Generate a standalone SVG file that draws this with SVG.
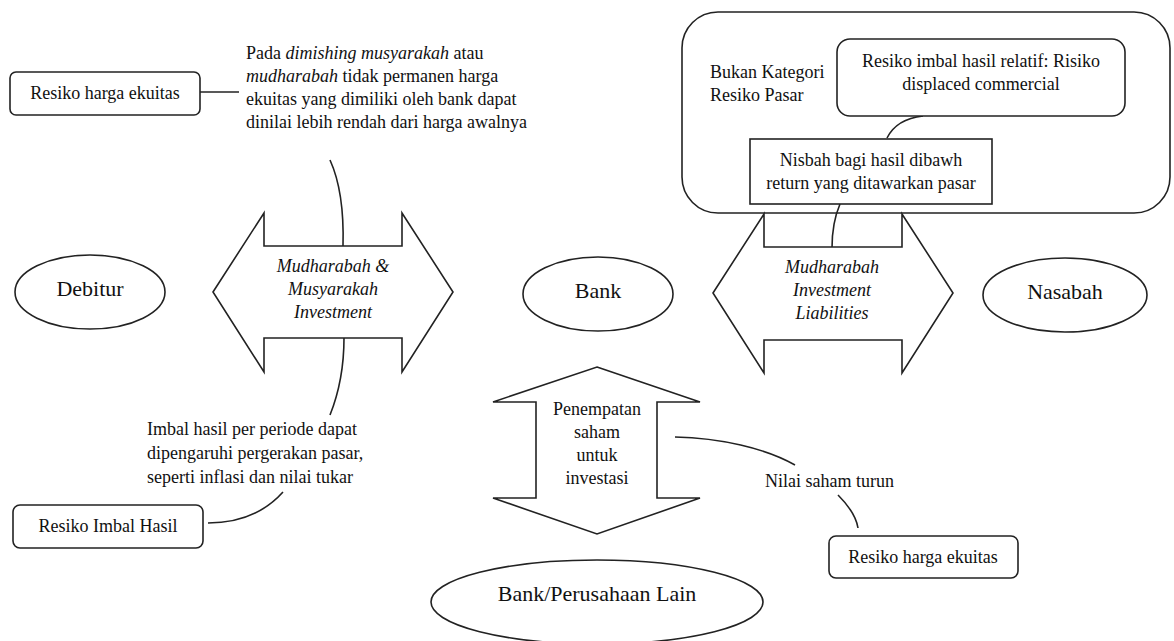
<svg xmlns="http://www.w3.org/2000/svg" width="1174" height="641" viewBox="0 0 1174 641" font-family="'Liberation Serif', 'DejaVu Serif', serif">
<style>
.s{fill:#fff;stroke:#222;stroke-width:1.6}
.c{fill:none;stroke:#222;stroke-width:1.6}
text{font-family:'Liberation Serif','DejaVu Serif',serif;fill:#111}
.b{font-size:18px}
.i{font-size:18px;font-style:italic}
.e{font-size:22px}
.m{text-anchor:middle}
</style>
<rect width="1174" height="641" fill="#fff"/>
<g id="group-pasar">
<rect class="s" x="682" y="12" width="488" height="201" rx="36"/>
<text class="b" x="710" y="78">Bukan Kategori</text>
<text class="b" x="710" y="101">Resiko Pasar</text>
</g>
<g id="connectors">
<path class="c" d="M200,92 L239,92"/>
<path class="c" d="M330,160 C340,182 344,210 343,246"/>
<path class="c" d="M344,338 C344,370 338,395 330,415"/>
<path class="c" d="M283,492 C265,512 240,523 208,523"/>
<path class="c" d="M887,138 C893,126 905,118 923,116"/>
<path class="c" d="M840,204 C834,218 832,232 832,248"/>
<path class="c" d="M675,437 C720,438 765,448 795,465"/>
<path class="c" d="M838,495 C848,505 856,515 858,528"/>
</g>
<g id="resiko-ekuitas-1">
<rect class="s" x="10" y="72" width="190" height="43" rx="6"/>
<text class="b m" x="105" y="99">Resiko harga ekuitas</text>
</g>
<g id="note-ekuitas">
<text class="b" x="246" y="59">Pada <tspan font-style="italic">dimishing musyarakah</tspan> atau</text>
<text class="b" x="246" y="82"><tspan font-style="italic">mudharabah</tspan> tidak permanen harga</text>
<text class="b" x="246" y="105">ekuitas yang dimiliki oleh bank dapat</text>
<text class="b" x="246" y="128">dinilai lebih rendah dari harga awalnya</text>
</g>
<g id="debitur">
<ellipse class="s" cx="90" cy="292" rx="75" ry="37"/>
<text class="e m" x="90" y="296">Debitur</text>
</g>
<g id="arrow-musyarakah">
<path class="s" d="M213,292 L264,213 L264,246 L402,246 L402,213 L453,292 L402,372 L402,338 L264,338 L264,372 Z"/>
<text class="i m" x="333" y="272">Mudharabah &amp;</text>
<text class="i m" x="333" y="295">Musyarakah</text>
<text class="i m" x="333" y="318">Investment</text>
</g>
<g id="bank">
<ellipse class="s" cx="598" cy="294" rx="75" ry="37"/>
<text class="e m" x="598" y="298">Bank</text>
</g>
<g id="arrow-liabilities">
<path class="s" d="M713,293 L764,214 L764,247 L902,247 L902,214 L953,293 L902,373 L902,340 L764,340 L764,373 Z"/>
<text class="i m" x="832" y="273">Mudharabah</text>
<text class="i m" x="832" y="296">Investment</text>
<text class="i m" x="832" y="319">Liabilities</text>
</g>
<g id="nasabah">
<ellipse class="s" cx="1065" cy="295" rx="82" ry="37"/>
<text class="e m" x="1065" y="299">Nasabah</text>
</g>
<g id="resiko-relatif">
<rect class="s" x="837" y="39" width="288" height="77" rx="13"/>
<text class="b m" x="981" y="67">Resiko imbal hasil relatif: Risiko</text>
<text class="b m" x="981" y="90">displaced commercial</text>
</g>
<g id="nisbah">
<rect class="s" x="750" y="139" width="242" height="65"/>
<text class="b m" x="871" y="166">Nisbah bagi hasil dibawh</text>
<text class="b m" x="871" y="189">return yang ditawarkan pasar</text>
</g>
<g id="note-imbal">
<text class="b" x="147" y="435">Imbal hasil per periode dapat</text>
<text class="b" x="147" y="459">dipengaruhi pergerakan pasar,</text>
<text class="b" x="147" y="483">seperti inflasi dan nilai tukar</text>
</g>
<g id="resiko-imbal">
<rect class="s" x="13" y="505" width="190" height="43" rx="7"/>
<text class="b m" x="108" y="532">Resiko Imbal Hasil</text>
</g>
<g id="arrow-penempatan">
<path class="s" d="M597,367 L700,402 L657,402 L657,498 L700,498 L597,534 L493,498 L536,498 L536,402 L493,402 Z"/>
<text class="b m" x="597" y="415">Penempatan</text>
<text class="b m" x="597" y="438">saham</text>
<text class="b m" x="597" y="461">untuk</text>
<text class="b m" x="597" y="484">investasi</text>
</g>
<g id="note-saham">
<text class="b" x="765" y="487">Nilai saham turun</text>
</g>
<g id="resiko-ekuitas-2">
<rect class="s" x="829" y="536" width="189" height="42" rx="7"/>
<text class="b m" x="923" y="563">Resiko harga ekuitas</text>
</g>
<g id="bank-lain">
<ellipse class="s" cx="597" cy="602" rx="166" ry="42"/>
<text class="e m" x="597" y="601">Bank/Perusahaan Lain</text>
</g>
</svg>
